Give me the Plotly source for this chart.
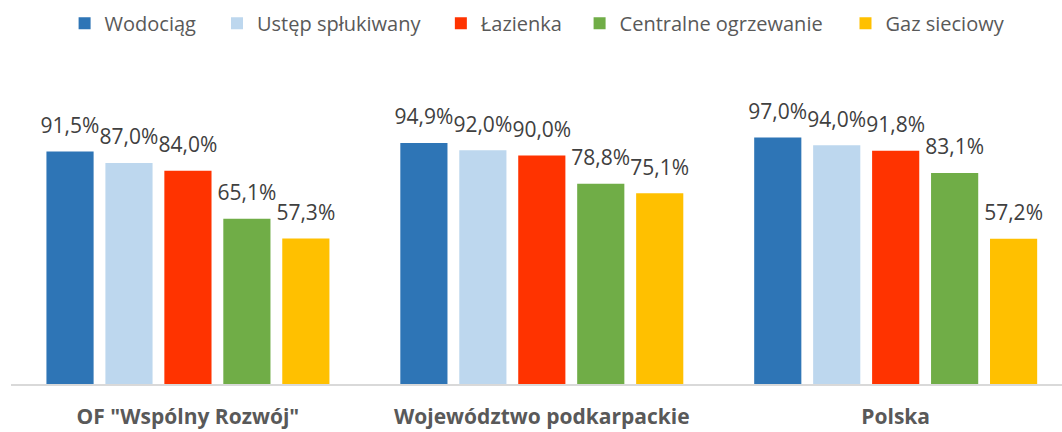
import plotly.graph_objects as go

categories = ['OF "Wspólny Rozwój"', "Województwo podkarpackie", "Polska"]

series_names = ["Wodociąg", "Ustęp spłukiwany", "Łazienka", "Centralne ogrzewanie", "Gaz sieciowy"]
wodociag = [91.5, 94.9, 97.0]
ustep = [87.0, 92.0, 94.0]
lazienka = [84.0, 90.0, 91.8]
ogrzewanie = [65.1, 78.8, 83.1]
gaz = [57.3, 75.1, 57.2]
series_values = [wodociag, ustep, lazienka, ogrzewanie, gaz]

colors = ["#2E75B6", "#BDD7EE", "#FF3300", "#70AD47", "#FFC000"]

# left edge (paper fraction) of each legend entry along the top row
legend_x = [0.051, 0.196, 0.409, 0.541, 0.794]

fig = go.Figure()

legend_ids = ["legend"] + [f"legend{i}" for i in range(2, 6)]

for name, vals, col, lid in zip(series_names, series_values, colors, legend_ids):
    fig.add_trace(go.Bar(
        x=categories, y=vals, name=name,
        marker=dict(color=col, line=dict(width=0)),
        hoverinfo="skip", legend=lid,
    ))

# value labels above each bar, grouped the same way as the bars
for name, vals in zip(series_names, series_values):
    fig.add_trace(go.Scatter(
        x=categories, y=vals, mode="markers+text",
        text=[f"{v:.1f}%".replace(".", ",") for v in vals],
        textposition="top center",
        textfont=dict(family="Open Sans", size=21, color="#404040"),
        marker=dict(size=20, opacity=0),
        showlegend=False, hoverinfo="skip", cliponaxis=False,
    ))

legend_style = dict(
    orientation="h", xanchor="left", y=1.42, yanchor="middle",
    font=dict(family="Open Sans", size=20, color="#595959"),
    bgcolor="rgba(0,0,0,0)", borderwidth=0,
)
layout_legends = {}
for lid, lx in zip(legend_ids, legend_x):
    layout_legends[lid] = dict(legend_style, x=lx)

fig.update_layout(
    width=1062, height=432,
    margin=dict(l=11, r=0, t=130, b=48, autoexpand=False),
    paper_bgcolor="white", plot_bgcolor="white",
    barmode="group", bargap=0.167, bargroupgap=0.2,
    scattermode="group", scattergap=0.167,
    font=dict(family="Open Sans", color="#595959"),
    xaxis=dict(
        range=[-0.5, 2.47], showgrid=False, zeroline=False, automargin=False,
        showline=True, linecolor="#D9D9D9", linewidth=2,
        ticks="", ticklabelstandoff=13,
        tickfont=dict(family="Open Sans", size=21, color="#595959", weight="bold"),
    ),
    yaxis=dict(range=[0, 100], visible=False, showgrid=False, zeroline=False),
    **layout_legends,
)

fig.write_html("out.html")
